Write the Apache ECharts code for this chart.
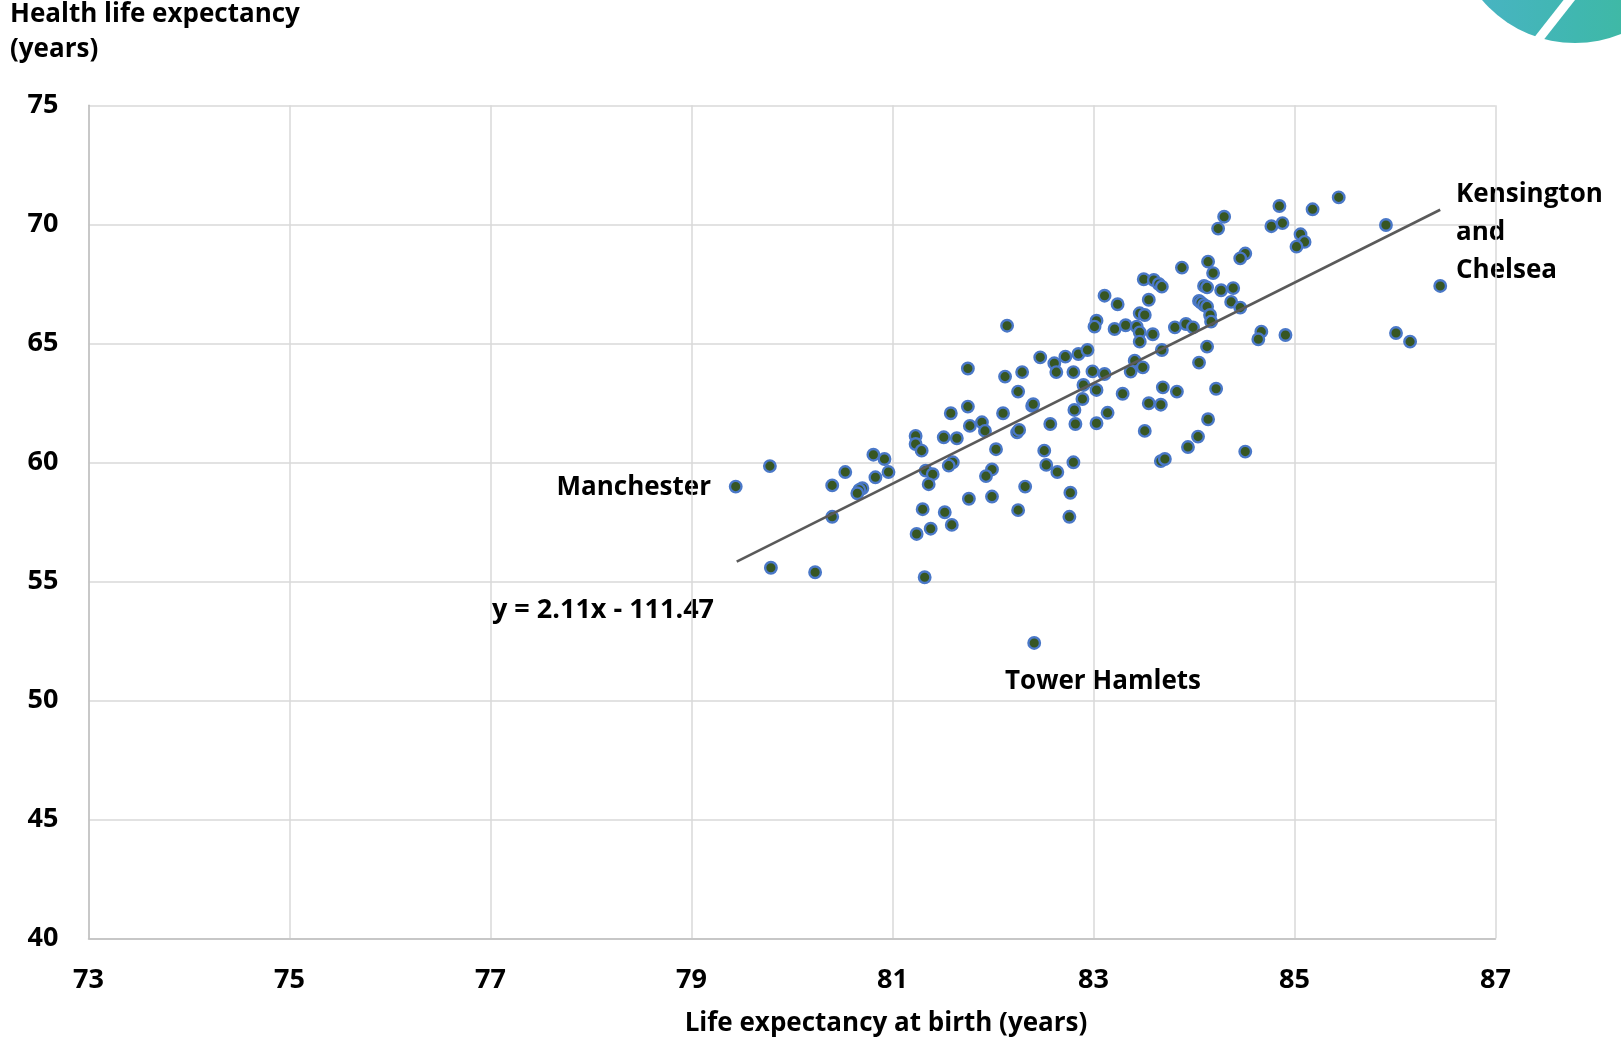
<!DOCTYPE html>
<html>
<head>
<meta charset="utf-8">
<script src="https://cdn.jsdelivr.net/npm/echarts@6/dist/echarts.min.js"></script>
<style>
html,body{margin:0;padding:0;background:#fff;}
#chart{width:1621px;height:1043px;}
</style>
</head>
<body>
<div id="chart"></div>
<script>
// Life expectancy at birth (years)
var lifeExpectancy = [
  82.14,82.47,82.61,82.63,82.72,82.85,82.94,82.80,82.99,82.90,
  82.89,82.81,82.82,83.03,83.03,82.29,82.12,82.25,82.39,82.40,
  82.10,82.57,82.24,82.26,82.03,82.51,82.53,82.64,82.80,82.32,
  82.25,82.77,82.76,81.99,81.93,81.99,81.76,81.75,81.75,81.77,
  81.89,81.92,81.58,81.51,81.64,81.60,81.56,81.23,81.23,81.29,
  81.33,81.40,81.36,81.30,81.52,81.59,81.24,81.38,81.32,80.81,
  80.92,80.96,80.83,80.53,80.40,80.70,80.67,80.65,80.40,79.78,
  79.44,79.79,80.23,82.41,
  85.44,84.85,85.18,84.30,84.24,84.77,84.88,85.91,85.06,85.10,
  85.02,84.51,84.46,84.14,84.19,83.88,83.50,83.60,83.65,83.68,
  83.11,83.24,83.55,84.10,84.13,84.27,84.39,84.37,84.46,84.05,
  84.07,84.10,84.13,84.16,84.17,83.46,83.51,83.03,83.01,83.21,
  83.32,83.43,83.46,83.46,83.59,83.81,83.92,83.99,83.68,84.13,
  84.05,83.41,83.49,83.37,83.11,83.29,83.14,83.69,83.83,84.22,
  83.55,83.67,83.51,84.14,84.04,83.94,83.67,83.71,84.51,84.67,
  84.64,84.91,86.01,86.15,86.45
];
// Healthy life expectancy (years)
var healthyLifeExpectancy = [
  65.74,64.41,64.16,63.79,64.44,64.55,64.72,63.79,63.82,63.25,
  62.66,62.20,61.61,63.04,61.64,63.79,63.60,62.97,62.37,62.44,
  62.06,61.61,61.26,61.36,60.55,60.49,59.89,59.59,60.00,58.98,
  57.99,58.72,57.71,59.70,59.42,58.56,58.47,63.94,62.34,61.53,
  61.68,61.32,62.06,61.05,61.01,60.00,59.86,61.11,60.77,60.49,
  59.65,59.50,59.08,58.03,57.90,57.37,56.99,57.21,55.17,60.32,
  60.14,59.59,59.37,59.59,59.03,58.91,58.84,58.70,57.71,59.84,
  58.98,55.57,55.38,52.41,
  71.13,70.77,70.63,70.32,69.82,69.92,70.05,69.97,69.58,69.26,
  69.06,68.77,68.57,68.43,67.95,68.18,67.69,67.66,67.49,67.38,
  67.00,66.64,66.83,67.41,67.35,67.23,67.32,66.74,66.50,66.78,
  66.71,66.61,66.54,66.19,65.91,66.26,66.19,65.95,65.70,65.60,
  65.76,65.70,65.46,65.07,65.38,65.67,65.81,65.67,64.72,64.86,
  64.19,64.27,63.99,63.81,63.71,62.88,62.08,63.15,62.97,63.09,
  62.48,62.42,61.32,61.81,61.08,60.64,60.05,60.14,60.45,65.49,
  65.17,65.35,65.43,65.07,67.41
];
// Trend line end points as drawn
var trendX = [79.45, 86.45];
var trendY = [55.83, 70.61];
var xTicks = [73, 75, 77, 79, 81, 83, 85, 87];
var yTicks = [40, 45, 50, 55, 60, 65, 70, 75];

var FONT = '"Open Sans", Lato, sans-serif';
var points = lifeExpectancy.map(function (x, i) { return [x, healthyLifeExpectancy[i]]; });
var trend = trendX.map(function (x, i) { return [x, trendY[i]]; });

var chart = echarts.init(document.getElementById('chart'), null, {renderer: 'canvas'});
chart.setOption({
  animation: false,
  backgroundColor: '#ffffff',
  grid: {left: 88.5, right: 125.5, top: 105.3, bottom: 104.7, containLabel: false},
  xAxis: {
    type: 'value',
    min: xTicks[0], max: xTicks[xTicks.length - 1], interval: 2,
    axisLine: {show: true, onZero: false, lineStyle: {color: '#bfbfbf', width: 1.5}},
    axisTick: {show: false},
    splitLine: {show: true, lineStyle: {color: '#d9d9d9', width: 1.5}},
    axisLabel: {margin: 29, color: '#000', fontFamily: FONT, fontWeight: 'bold', fontSize: 27}
  },
  yAxis: {
    type: 'value',
    min: yTicks[0], max: yTicks[yTicks.length - 1], interval: 5,
    axisLine: {show: true, onZero: false, lineStyle: {color: '#bfbfbf', width: 1.5}},
    axisTick: {show: false},
    splitLine: {show: true, lineStyle: {color: '#d9d9d9', width: 1.5}},
    axisLabel: {margin: 30, padding: [5, 0, 0, 0], color: '#000', fontFamily: FONT, fontWeight: 'bold', fontSize: 27}
  },
  series: [
    {
      type: 'scatter',
      data: points,
      symbol: 'circle',
      symbolSize: 11.5,
      itemStyle: {color: '#375623', borderColor: '#4a78c8', borderWidth: 2.4, opacity: 1},
      z: 2
    },
    {
      type: 'line',
      data: trend,
      showSymbol: false,
      symbol: 'none',
      lineStyle: {color: '#5a5a5a', width: 2.6},
      z: 3
    }
  ],
  graphic: [
    {type: 'circle', shape: {cx: 1575, cy: -79, r: 122},
      style: {fill: new echarts.graphic.LinearGradient(0, 0, 1, 0, [
        {offset: 0, color: '#4ab3c7'}, {offset: 0.5, color: '#40b7b0'}, {offset: 1, color: '#3dbb96'}])}, z: 1},
    {type: 'line', shape: {x1: 1530, y1: 50, x2: 1574, y2: -6},
      style: {stroke: '#ffffff', lineWidth: 9}, z: 2},
    {type: 'text', x: 10, y: 15, style: {text: 'Health life expectancy', font: 'bold 26px ' + FONT, fill: '#000', textAlign: 'left', textVerticalAlign: 'middle'}},
    {type: 'text', x: 10, y: 50, style: {text: '(years)', font: 'bold 26px ' + FONT, fill: '#000', textAlign: 'left', textVerticalAlign: 'middle'}},
    {type: 'text', x: 886, y: 1024, style: {text: 'Life expectancy at birth (years)', font: 'bold 26px ' + FONT, fill: '#000', textAlign: 'center', textVerticalAlign: 'middle'}},
    {type: 'text', x: 1456, y: 195, style: {text: 'Kensington', font: 'bold 26px ' + FONT, fill: '#000', textAlign: 'left', textVerticalAlign: 'middle'}},
    {type: 'text', x: 1456, y: 233, style: {text: 'and', font: 'bold 26px ' + FONT, fill: '#000', textAlign: 'left', textVerticalAlign: 'middle'}},
    {type: 'text', x: 1456, y: 271, style: {text: 'Chelsea', font: 'bold 26px ' + FONT, fill: '#000', textAlign: 'left', textVerticalAlign: 'middle'}},
    {type: 'text', x: 711, y: 488, style: {text: 'Manchester', font: 'bold 26px ' + FONT, fill: '#000', textAlign: 'right', textVerticalAlign: 'middle'}},
    {type: 'text', x: 492, y: 610, style: {text: 'y = 2.11x - 111.47', font: 'bold 27px ' + FONT, fill: '#000', textAlign: 'left', textVerticalAlign: 'middle'}},
    {type: 'text', x: 1005, y: 682, style: {text: 'Tower Hamlets', font: 'bold 26px ' + FONT, fill: '#000', textAlign: 'left', textVerticalAlign: 'middle'}}
  ]
});
</script>
</body>
</html>
